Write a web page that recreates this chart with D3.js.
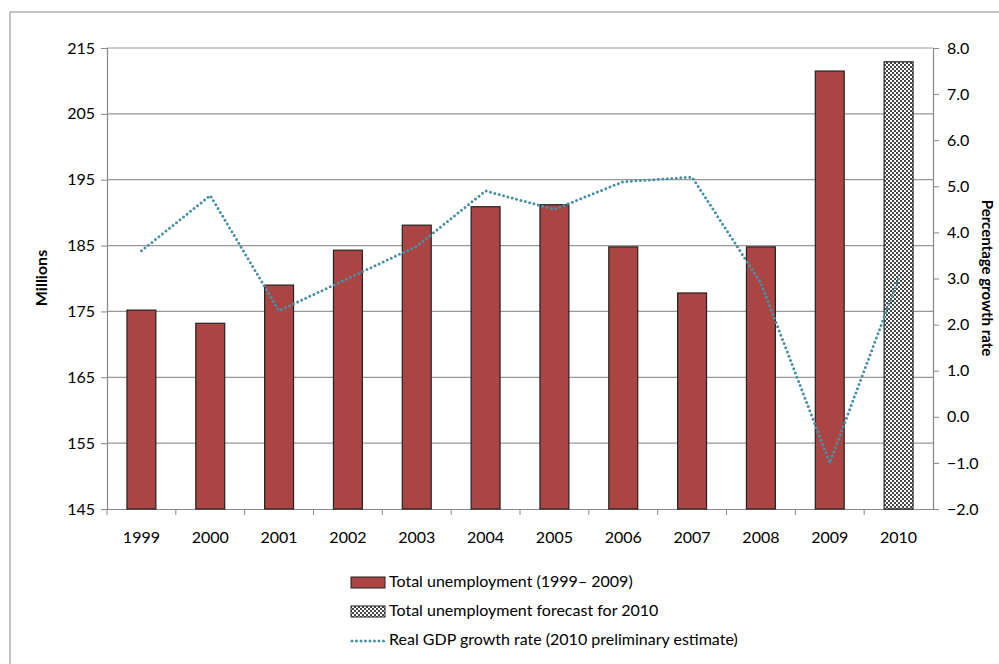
<!DOCTYPE html>
<html>
<head>
<meta charset="utf-8">
<script src="https://cdn.jsdelivr.net/npm/d3@7"></script>
<style>
  body { margin: 0; background: #fff; }
  text { font-family: Lato, "Open Sans", sans-serif; fill: #000; }
</style>
</head>
<body>
<svg id="chart" width="999" height="664"></svg>
<script>
const years = ['1999','2000','2001','2002','2003','2004','2005','2006','2007','2008','2009','2010']
const unemployment = [175.2, 173.2, 179.0, 184.3, 188.1, 190.9, 191.2, 184.8, 177.8, 184.8, 211.5, 212.9]
const gdpGrowth = [3.6, 4.8, 2.3, 3.0, 3.7, 4.9, 4.5, 5.1, 5.2, 2.9, -1.0, 3.0]
const leftTicks = [145, 155, 165, 175, 185, 195, 205, 215]
const rightTicks = [-2, -1, 0, 1, 2, 3, 4, 5, 6, 7, 8]
const legendLabels = ['Total unemployment (1999\u2013 2009)', 'Total unemployment forecast for 2010', 'Real GDP growth rate (2010 preliminary estimate)']

const svg = d3.select('#chart')
const barColor = '#aa4544'
const lineColor = '#4a90a4'
const plotLeft = 107, plotRight = 933, plotTop = 48, plotBottom = 509

// frame
svg.append('path').attr('d', `M10,664 V12 H999`).attr('fill', 'none').attr('stroke', '#888').attr('stroke-width', 1)

const defs = svg.append('defs')
const pat = defs.append('pattern').attr('id', 'checks').attr('width', 4).attr('height', 4).attr('patternUnits', 'userSpaceOnUse')
pat.append('rect').attr('width', 4).attr('height', 4).attr('fill', '#fff')
pat.append('rect').attr('width', 2).attr('height', 2).attr('fill', '#444')
pat.append('rect').attr('x', 2).attr('y', 2).attr('width', 2).attr('height', 2).attr('fill', '#444')

const x = d3.scaleBand().domain(years).range([plotLeft, plotRight]).paddingInner(0.58).paddingOuter(0.29)
const yL = d3.scaleLinear().domain([145, 215]).range([plotBottom, plotTop])
const yR = d3.scaleLinear().domain([-2, 8]).range([plotBottom, plotTop])

// gridlines
svg.append('g').selectAll('line').data(leftTicks.slice(1)).enter().append('line')
  .attr('x1', plotLeft).attr('x2', plotRight).attr('y1', d => yL(d)).attr('y2', d => yL(d))
  .attr('stroke', '#999').attr('stroke-width', 1.2)

// axes
svg.append('g').attr('transform', `translate(${plotLeft},0)`)
  .call(d3.axisLeft(yL).tickValues(leftTicks).tickSize(6).tickPadding(6))
svg.append('g').attr('transform', `translate(${plotRight},0)`)
  .call(d3.axisRight(yR).tickValues(rightTicks).tickSize(6).tickPadding(8).tickFormat(d3.format('.1f')))
const step = x.step()
const axX = svg.append('g').attr('transform', `translate(0,${plotBottom})`)
  .call(d3.axisBottom(x).tickSize(0).tickPadding(23))
axX.selectAll('.tick').each(function(d, i) {
  d3.select(this).append('line').attr('x1', -step / 2).attr('x2', -step / 2).attr('y2', 6).attr('stroke', '#888')
})
svg.selectAll('.domain').attr('stroke', '#888').attr('stroke-width', 1.2)
svg.selectAll('.tick line').attr('stroke', '#888')
svg.selectAll('.tick text').style('font-size', '16px').attr('fill', '#000')

// bars
svg.append('g').selectAll('rect').data(unemployment).enter().append('rect')
  .attr('x', (d, i) => x(years[i]))
  .attr('width', x.bandwidth())
  .attr('y', d => yL(d))
  .attr('height', d => plotBottom - yL(d))
  .attr('fill', (d, i) => i === years.length - 1 ? 'url(#checks)' : barColor)
  .attr('stroke', '#222').attr('stroke-width', 1.2)

// line
const line = d3.line().x((d, i) => x(years[i]) + x.bandwidth() / 2).y(d => yR(d))
svg.append('path').datum(gdpGrowth).attr('d', line)
  .attr('fill', 'none').attr('stroke', lineColor).attr('stroke-width', 3)
  .attr('stroke-dasharray', '0 4.5').attr('stroke-linecap', 'round')

// axis titles
svg.append('text').attr('transform', `translate(47,278) rotate(-90)`).attr('text-anchor', 'middle')
  .style('font-size', '16px').style('font-weight', 'bold').text('Millions')
svg.append('text').attr('transform', `translate(982,278) rotate(90)`).attr('text-anchor', 'middle')
  .style('font-size', '15px').style('font-weight', 'bold').text('Percentage growth rate')

// legend
const leg = svg.append('g')
const ly = [583, 612, 641]
leg.append('rect').attr('x', 351).attr('y', ly[0] - 6).attr('width', 34).attr('height', 11).attr('fill', barColor).attr('stroke', '#222')
leg.append('rect').attr('x', 351).attr('y', ly[1] - 6).attr('width', 34).attr('height', 11).attr('fill', 'url(#checks)').attr('stroke', '#222')
leg.append('line').attr('x1', 352).attr('x2', 384).attr('y1', ly[2]).attr('y2', ly[2])
  .attr('stroke', lineColor).attr('stroke-width', 3).attr('stroke-dasharray', '0 4.5').attr('stroke-linecap', 'round')
leg.selectAll('text.lab').data(legendLabels).enter().append('text').attr('class', 'lab')
  .attr('x', 389).attr('y', (d, i) => ly[i]).attr('dominant-baseline', 'middle')
  .style('font-size', '16px').text(d => d)
</script>
</body>
</html>
